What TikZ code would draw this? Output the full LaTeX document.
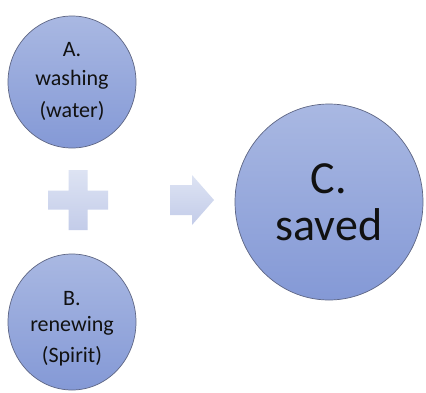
\documentclass[tikz,border=0pt]{standalone}
\usepackage{fontspec}
\setmainfont{Carlito}
\usetikzlibrary{shapes.geometric}
\definecolor{bubtop}{HTML}{A9B8E2}
\definecolor{bubbot}{HTML}{8499D6}
\definecolor{bubline}{HTML}{5E6684}
\definecolor{symtop}{HTML}{DDE3F3}
\definecolor{symbot}{HTML}{C3CCE9}
\definecolor{txtcol}{HTML}{111111}
\begin{document}
\begin{tikzpicture}[x=1pt,y=-1pt,
  bubble/.style={ellipse,draw=bubline,line width=0.7pt,top color=bubtop,bottom color=bubbot,inner sep=0pt},
  smalltxt/.style={anchor=base,inner sep=0pt,text=txtcol,font=\fontsize{22}{26}\selectfont},
  bigtxt/.style={inner sep=0pt,text=txtcol,align=center,font=\fontsize{46}{47}\selectfont},
  symbol/.style={top color=symtop,bottom color=symbot}]
\useasboundingbox[fill=white] (0,0) rectangle (426,392);
% circles
\node[bubble,minimum width=128pt,minimum height=132pt] (A) at (72,82) {};
\node[bubble,minimum width=128pt,minimum height=136pt] (B) at (72,322) {};
\node[bubble,minimum width=188pt,minimum height=196pt] (C) at (329,202) {};
% texts
\node[smalltxt] (A1) at (72,56) {A.};
\node[smalltxt] (A2) at (72,85) {washing};
\node[smalltxt] (A3) at (72,117) {(water)};
\node[smalltxt] (B1) at (72,305) {B.};
\node[smalltxt] (B2) at (72,331) {renewing};
\node[smalltxt] (B3) at (72,362) {(Spirit)};
\node[bigtxt,anchor=south] (C1) at (329,241) {C.\\saved};
% plus sign
\path[symbol] (68.5,170) -- (87.5,170) -- (87.5,190.5) -- (108,190.5) -- (108,209.5)
  -- (87.5,209.5) -- (87.5,230) -- (68.5,230) -- (68.5,209.5) -- (48,209.5)
  -- (48,190.5) -- (68.5,190.5) -- cycle;
% arrow
\path[symbol] (170,185) -- (192,185) -- (192,175) -- (214,200) -- (192,225)
  -- (192,215) -- (170,215) -- cycle;
\end{tikzpicture}
\end{document}
